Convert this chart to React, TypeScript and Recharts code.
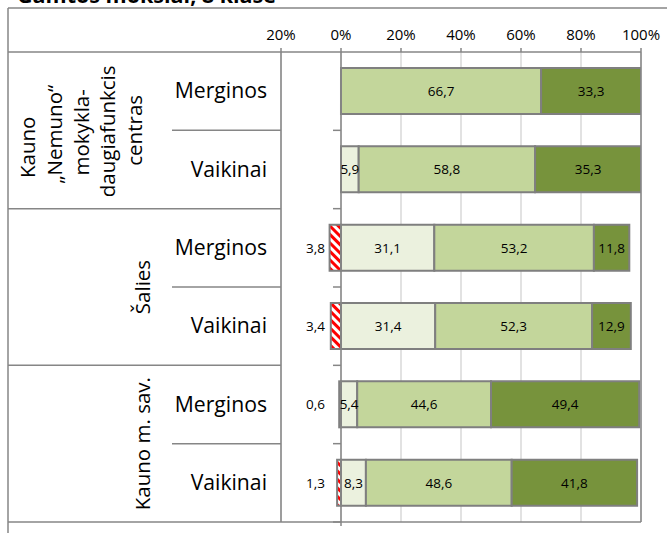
import React from 'react';
import { BarChart, Bar, XAxis, YAxis, CartesianGrid, ReferenceLine, LabelList } from 'recharts';

const FONT = "'Open Sans', sans-serif";

const rowKeys = ['nemuno_m', 'nemuno_v', 'salies_m', 'salies_v', 'kauno_m', 'kauno_v'];
const genderLabels = ['Merginos', 'Vaikinai', 'Merginos', 'Vaikinai', 'Merginos', 'Vaikinai'];
const groupLines = [
  ['Kauno', '„Nemuno“', 'mokykla-', 'daugiafunkcis', 'centras'],
  ['Šalies'],
  ['Kauno m. sav.'],
];
const belowValues = [null, null, 3.8, 3.4, 0.6, 1.3];
const basicValues = [null, 5.9, 31.1, 31.4, 5.4, 8.3];
const midValues = [66.7, 58.8, 53.2, 52.3, 44.6, 48.6];
const highValues = [33.3, 35.3, 11.8, 12.9, 49.4, 41.8];
const xTicks = [-20, 0, 20, 40, 60, 80, 100];
const titleText = 'Gamtos mokslai, 8 klasė';

const data = rowKeys.map((key, i) => ({
  key,
  below: belowValues[i] == null ? null : -(belowValues[i] as number),
  basic: basicValues[i],
  mid: midValues[i],
  high: highValues[i],
}));

const ROW_HALF = (522 - 52) / 12;
const GRAY = '#868686';
const BORDER = '#7F7F7F';

const fmt = (v: number) => Math.abs(v).toFixed(1).replace('.', ',');

function boxOf(p: any) {
  const vb = p.viewBox && p.viewBox.width !== undefined ? p.viewBox : p;
  const x1 = Math.min(vb.x, vb.x + vb.width);
  const x2 = Math.max(vb.x, vb.x + vb.width);
  const y1 = Math.min(vb.y, vb.y + vb.height);
  const y2 = Math.max(vb.y, vb.y + vb.height);
  return { x1, x2, y1, y2 };
}

const centerLabel = (p: any) => {
  if (p.value == null) return null;
  const b = boxOf(p);
  return (
    <text x={(b.x1 + b.x2) / 2} y={(b.y1 + b.y2) / 2} dy="0.36em" textAnchor="middle"
      fontSize={13.5} fontFamily={FONT} fill="#000">{fmt(p.value)}</text>
  );
};

const leftLabel = (p: any) => {
  if (p.value == null) return null;
  const b = boxOf(p);
  return (
    <text x={b.x2 - 16} y={(b.y1 + b.y2) / 2} dy="0.36em" textAnchor="end"
      fontSize={13.5} fontFamily={FONT} fill="#000">{fmt(p.value)}</text>
  );
};

// multi-line group label layout (baseline x, vertical shift of each line)
const lineBaselines = [[35, 62, 89, 115, 142], [150], [150]];
const lineShifts = [[17, 4, 2, 1, 0], [0], [0]];

const RowTick = (props: any) => {
  const { y, payload } = props;
  const i = rowKeys.indexOf(payload.value);
  if (i < 0) return null;
  const bottom = y + ROW_HALF;
  const first = i % 2 === 0;
  const g = Math.floor(i / 2);
  const last = i === rowKeys.length - 1;
  return (
    <g>
      <text x={267} y={y + 7} textAnchor="end" fontSize={21.2} fontFamily={FONT} fill="#000">
        {genderLabels[i]}
      </text>
      <line x1={333} x2={341} y1={bottom} y2={bottom} stroke={GRAY} strokeWidth={1.5} />
      <line x1={first ? 172 : 8} x2={last ? 641 : 281} y1={bottom} y2={bottom} stroke={GRAY} strokeWidth={1.5} />
      {first &&
        groupLines[g].map((t, k) => (
          <text key={k}
            transform={`translate(${lineBaselines[g][k]},${bottom + lineShifts[g][k]}) rotate(-90)`}
            textAnchor="middle" fontSize={20.5} fontFamily={FONT} fill="#000">{t}</text>
        ))}
    </g>
  );
};

export default function App() {
  return (
    <div style={{ position: 'absolute', left: 0, top: 0, width: 667, height: 533, background: '#fff' }}>
      <BarChart width={667} height={533} data={data} layout="vertical" stackOffset="sign" barSize={46}
        margin={{ top: 8, right: 26, bottom: 11, left: 0 }}>
        <defs>
          <pattern id="hatch" patternUnits="userSpaceOnUse" width="6" height="6" patternTransform="rotate(-45)">
            <rect width="6" height="6" fill="#ffffff" />
            <rect width="3" height="6" fill="#FF0000" />
          </pattern>
        </defs>
        <CartesianGrid horizontal={false} stroke="#D9D9D9" strokeWidth={1.5} />
        <XAxis type="number" orientation="top" domain={[-20, 100]} ticks={xTicks} height={44}
          tickFormatter={(v: number) => `${Math.abs(v)}%`} tickSize={4} tickMargin={8}
          axisLine={false} tickLine={{ stroke: GRAY, strokeWidth: 1.5 }} interval={0}
          tick={{ fontSize: 15, fill: '#000', fontFamily: FONT }} allowDataOverflow />
        <YAxis type="category" dataKey="key" width={281} axisLine={false} tickLine={false}
          interval={0} tick={(p: any) => <RowTick {...p} />} />
        <Bar dataKey="below" stackId="s" fill="url(#hatch)" stroke={BORDER} strokeWidth={2} isAnimationActive={false}>
          <LabelList dataKey="below" content={leftLabel} />
        </Bar>
        <Bar dataKey="basic" stackId="s" fill="#EBF1DE" stroke={BORDER} strokeWidth={2} isAnimationActive={false}>
          <LabelList dataKey="basic" content={centerLabel} />
        </Bar>
        <Bar dataKey="mid" stackId="s" fill="#C3D69B" stroke={BORDER} strokeWidth={2} isAnimationActive={false}>
          <LabelList dataKey="mid" content={centerLabel} />
        </Bar>
        <Bar dataKey="high" stackId="s" fill="#77933C" stroke={BORDER} strokeWidth={2} isAnimationActive={false}>
          <LabelList dataKey="high" content={centerLabel} />
        </Bar>
        <ReferenceLine x={-20} stroke={GRAY} strokeWidth={1.5} />
        <ReferenceLine x={0} stroke={GRAY} strokeWidth={1.5} />
        <ReferenceLine x={100} stroke={GRAY} strokeWidth={1.5} />
      </BarChart>
      <svg width={667} height={533} style={{ position: 'absolute', left: 0, top: 0, pointerEvents: 'none' }}>
        <text x={17} y={3} fontSize={21.5} fontWeight="bold" fontFamily={FONT} fill="#000">{titleText}</text>
        <line x1={8} x2={667} y1={8} y2={8} stroke={GRAY} strokeWidth={1.5} />
        <line x1={8} x2={8} y1={8} y2={533} stroke={GRAY} strokeWidth={1.5} />
        <line x1={8} x2={641} y1={52} y2={52} stroke={GRAY} strokeWidth={1.5} />
        <line x1={341} x2={341} y1={522} y2={526} stroke={GRAY} strokeWidth={1.5} />
      </svg>
    </div>
  );
}
